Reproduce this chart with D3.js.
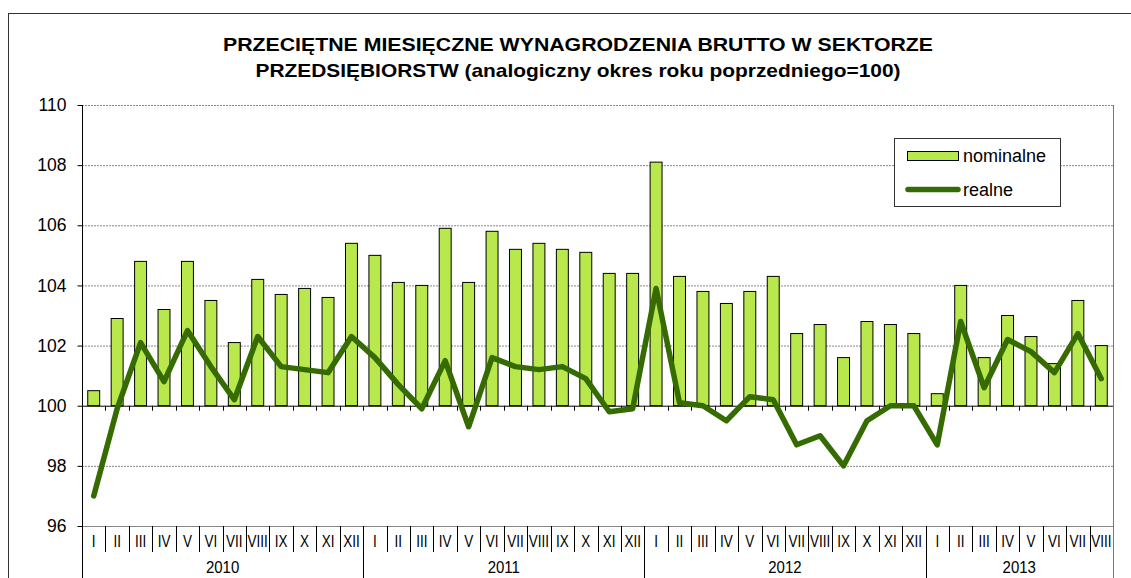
<!DOCTYPE html>
<html><head><meta charset="utf-8">
<script src="https://cdn.jsdelivr.net/npm/d3@7"></script>
<style>
html,body{margin:0;padding:0;background:#fff;}
svg{display:block;font-family:Arial,"Liberation Sans",sans-serif;}
</style></head>
<body>
<svg id="chart" width="1131" height="578"></svg>
<script>
const monthLabels = ["I","II","III","IV","V","VI","VII","VIII","IX","X","XI","XII"];
const years = ["2010","2011","2012","2013"];
const monthsPerYear = [12,12,12,8];
const nominalne = [
  100.5,102.9,104.8,103.2,104.8,103.5,102.1,104.2,103.7,103.9,103.6,105.4,
  105.0,104.1,104.0,105.9,104.1,105.8,105.2,105.4,105.2,105.1,104.4,104.4,
  108.1,104.3,103.8,103.4,103.8,104.3,102.4,102.7,101.6,102.8,102.7,102.4,
  100.4,104.0,101.6,103.0,102.3,101.4,103.5,102.0
];
const realne = [
  97.0,99.9,102.1,100.8,102.5,101.3,100.2,102.3,101.3,101.2,101.1,102.3,
  101.6,100.7,99.9,101.5,99.3,101.6,101.3,101.2,101.3,100.9,99.8,99.9,
  103.9,100.1,100.0,99.5,100.3,100.2,98.7,99.0,98.0,99.5,100.0,100.0,
  98.7,102.8,100.6,102.2,101.8,101.1,102.4,100.9
];
const yTicks = [96,98,100,102,104,106,108,110];
const titleLines = ["PRZECIĘTNE MIESIĘCZNE WYNAGRODZENIA BRUTTO W SEKTORZE",
                    "PRZEDSIĘBIORSTW (analogiczny okres roku poprzedniego=100)"];
const legendLabels = ["nominalne","realne"];

// categories
const cats = [];
years.forEach((yr,yi)=>{ for(let m=0;m<monthsPerYear[yi];m++) cats.push({year:yr, month:monthLabels[m], idx:cats.length}); });

const svg = d3.select("#chart");
const L=82, R=1113, T=105, B=526;
const x = d3.scaleBand().domain(cats.map(d=>d.idx)).range([L,R]).padding(0);
const y = d3.scaleLinear().domain([96,110]).range([B,T]);
const barFill="#b8e84c", lineCol="#356b00";

// outer frame
svg.append("rect").attr("x",8.5).attr("y",13.5).attr("width",1140).attr("height",600)
  .attr("fill","none").attr("stroke","#333").attr("stroke-width",1);

// title
const titleW=[710,645];
svg.append("g").selectAll("text").data(titleLines).join("text")
  .attr("x",578).attr("y",(d,i)=>51+i*26).attr("text-anchor","middle")
  .attr("font-size",18.5).attr("font-weight","bold").attr("fill","#000")
  .attr("textLength",(d,i)=>titleW[i]).attr("lengthAdjust","spacingAndGlyphs").text(d=>d);

// gridlines
svg.append("g").selectAll("line").data(yTicks.filter(v=>v!==100)).join("line")
  .attr("x1",L).attr("x2",R).attr("y1",d=>y(d)+0.5).attr("y2",d=>y(d)+0.5)
  .attr("stroke","#888").attr("stroke-width",1).attr("stroke-dasharray",d=>d===96?null:"2,1");

// right plot border
svg.append("line").attr("x1",R+0.5).attr("x2",R+0.5).attr("y1",T).attr("y2",578)
  .attr("stroke","#777");

// bars
const bw = x.bandwidth()*0.51;
svg.append("g").selectAll("rect").data(nominalne).join("rect")
  .attr("x",(d,i)=>x(i)+(x.bandwidth()-bw)/2)
  .attr("y",d=>y(d))
  .attr("width",bw).attr("height",d=>y(100)-y(d))
  .attr("fill",barFill).attr("stroke","#000").attr("stroke-width",1);

// baseline at 100 with ticks
svg.append("line").attr("x1",L).attr("x2",R).attr("y1",y(100)+0.5).attr("y2",y(100)+0.5)
  .attr("stroke","#000").attr("stroke-width",1);
svg.append("g").selectAll("line").data(cats.slice(1)).join("line")
  .attr("x1",d=>Math.round(x(d.idx))+0.5).attr("x2",d=>Math.round(x(d.idx))+0.5)
  .attr("y1",y(100)).attr("y2",y(100)+5).attr("stroke","#000");

// line
const line = d3.line().x((d,i)=>x(i)+x.bandwidth()/2).y(d=>y(d));
svg.append("path").datum(realne).attr("d",line).attr("fill","none")
  .attr("stroke",lineCol).attr("stroke-width",5.5)
  .attr("stroke-linejoin","round").attr("stroke-linecap","round");

// y axis
const yAxis = d3.axisLeft(y).tickValues(yTicks).tickSize(5).tickPadding(11).tickFormat(d3.format("d"));
const ga = svg.append("g").attr("transform",`translate(${L+0.5},0)`).call(yAxis);
ga.select(".domain").remove();
ga.selectAll(".tick line").attr("stroke","#000");
ga.selectAll(".tick text").attr("font-size",17.5).attr("fill","#000").attr("font-family","Arial, 'Liberation Sans', sans-serif");
svg.append("line").attr("x1",L+0.5).attr("x2",L+0.5).attr("y1",T).attr("y2",578).attr("stroke","#000");

// category axis: months
svg.append("g").selectAll("line").data(cats.slice(1)).join("line")
  .attr("x1",d=>Math.round(x(d.idx))+0.5).attr("x2",d=>Math.round(x(d.idx))+0.5)
  .attr("y1",B).attr("y2",d=>d.month==="I"?578:552).attr("stroke","#000");
svg.append("g").selectAll("text").data(cats).join("text")
  .attr("transform",d=>`translate(${x(d.idx)+x.bandwidth()/2},547) scale(1,1.22)`)
  .attr("text-anchor","middle")
  .attr("font-size",13.5).attr("fill","#000").text(d=>d.month);

// years
let start=0;
const yearSpans = years.map((yr,yi)=>{ const s=start; start+=monthsPerYear[yi]; return {yr, s, e:start-1}; });
svg.append("g").selectAll("text").data(yearSpans).join("text")
  .attr("transform",d=>`translate(${(x(d.s)+x(d.e)+x.bandwidth())/2},573) scale(1,1.1)`)
  .attr("text-anchor","middle")
  .attr("font-size",15).attr("fill","#000").text(d=>d.yr);

// legend
const lg = svg.append("g");
lg.append("rect").attr("x",894.5).attr("y",138.5).attr("width",166).attr("height",68)
  .attr("fill","#fff").attr("stroke","#333");
lg.append("rect").attr("x",907.5).attr("y",151.5).attr("width",51).attr("height",9)
  .attr("fill",barFill).attr("stroke","#000");
lg.append("line").attr("x1",908).attr("x2",958).attr("y1",189.5).attr("y2",189.5)
  .attr("stroke",lineCol).attr("stroke-width",5.5).attr("stroke-linecap","round");
lg.selectAll("text").data(legendLabels).join("text")
  .attr("x",963).attr("y",(d,i)=>162+i*34).attr("font-size",18).attr("fill","#000").text(d=>d);
</script>
</body></html>
